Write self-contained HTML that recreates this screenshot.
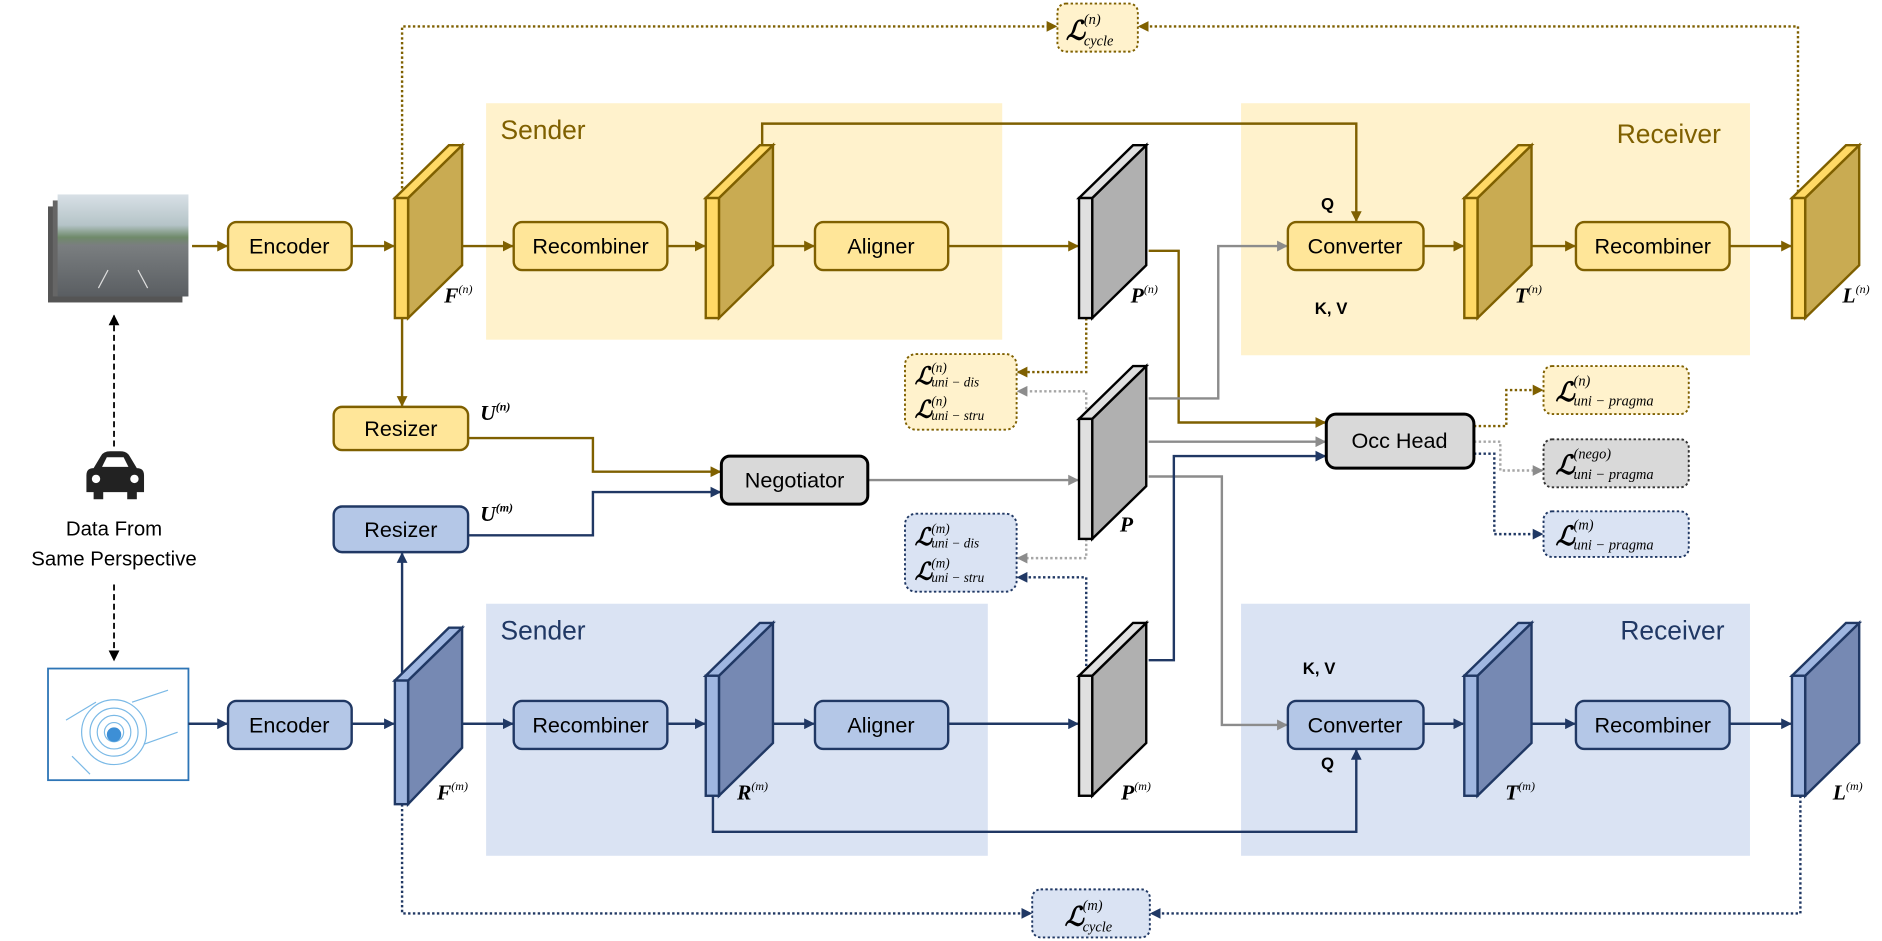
<!DOCTYPE html>
<html><head><meta charset="utf-8"><style>
html,body{margin:0;padding:0;background:#fff;}
svg{display:block;}
.t{font-family:"Liberation Sans",sans-serif;font-size:18px;text-anchor:middle;dominant-baseline:central;fill:#000;}
.m{font-family:"Liberation Serif",serif;font-style:italic;font-weight:bold;fill:#000;}
.s{font-family:"Liberation Serif",serif;font-style:italic;fill:#000;}
</style></head><body>
<svg width="1882" height="941" viewBox="0 0 1568 784" xmlns="http://www.w3.org/2000/svg">
<defs>
<marker id="ag" markerWidth="9" markerHeight="9" refX="8" refY="4.5" orient="auto" markerUnits="userSpaceOnUse"><path d="M0,0 L9,4.5 L0,9z" fill="#7f6000"/></marker>
<marker id="ab" markerWidth="9" markerHeight="9" refX="8" refY="4.5" orient="auto" markerUnits="userSpaceOnUse"><path d="M0,0 L9,4.5 L0,9z" fill="#203864"/></marker>
<marker id="ay" markerWidth="9" markerHeight="9" refX="8" refY="4.5" orient="auto" markerUnits="userSpaceOnUse"><path d="M0,0 L9,4.5 L0,9z" fill="#8c8c8c"/></marker>
<marker id="ak" markerWidth="9" markerHeight="9" refX="8" refY="4.5" orient="auto" markerUnits="userSpaceOnUse"><path d="M0,0 L9,4.5 L0,9z" fill="#000"/></marker>
<linearGradient id="sky" x1="0" y1="0" x2="0" y2="1"><stop offset="0" stop-color="#d8e0e6"/><stop offset="0.3" stop-color="#b5c4c8"/><stop offset="0.42" stop-color="#6f8a6a"/><stop offset="0.5" stop-color="#7a7e80"/><stop offset="1" stop-color="#5a5e62"/></linearGradient>
</defs>

<rect x="405" y="86" width="430" height="197" fill="#fff2cc"/>
<rect x="1034" y="86" width="424" height="210" fill="#fff2cc"/>
<rect x="405" y="503" width="418" height="210" fill="#dae3f3"/>
<rect x="1034" y="503" width="424" height="210" fill="#dae3f3"/>
<text x="417" y="116" style="font-family:'Liberation Sans',sans-serif;font-size:22px;fill:#7f6000">Sender</text>
<text x="1347" y="119" style="font-family:'Liberation Sans',sans-serif;font-size:22px;fill:#7f6000">Receiver</text>
<text x="417" y="533" style="font-family:'Liberation Sans',sans-serif;font-size:22px;fill:#203864">Sender</text>
<text x="1350" y="533" style="font-family:'Liberation Sans',sans-serif;font-size:22px;fill:#203864">Receiver</text>

<rect x="40" y="172" width="112" height="80" fill="#555"/>
<rect x="44" y="167" width="112" height="80" fill="#666"/>
<rect x="48" y="162" width="109" height="85" fill="url(#sky)"/>
<path d="M90 225 L82 240 M115 225 L123 240" stroke="#ddd" stroke-width="1"/>
<rect x="40" y="557" width="117" height="93" fill="#fff" stroke="#2e75b6" stroke-width="1.5"/>
<g fill="none" stroke="#5aa8e0" stroke-width="1" opacity="0.8">
<circle cx="95" cy="610" r="8"/><circle cx="95" cy="610" r="14"/><circle cx="95" cy="610" r="20"/><circle cx="95" cy="610" r="27"/>
<path d="M55 600 L80 585 M110 585 L140 575 M60 630 L75 645 M120 620 L148 610"/>
</g>
<circle cx="95" cy="612" r="6" fill="#3d8fd6"/>

<path d="M72 396 Q72 390 78 390 L84 380 Q86 376 92 376 L100 376 Q106 376 108 380 L114 390 Q120 390 120 396 L120 410 L114 410 L114 416 L106 416 L106 410 L86 410 L86 416 L78 416 L78 410 L72 410Z" fill="#222"/>
<path d="M85 389 L89 381 L103 381 L107 389Z" fill="#fff"/>
<circle cx="80" cy="399" r="3.5" fill="#fff"/><circle cx="112" cy="399" r="3.5" fill="#fff"/>
<text class="t" x="95" y="441" style="font-size:17px">Data From</text>
<text class="t" x="95" y="466" style="font-size:17px">Same Perspective</text>
<line x1="95" y1="372" x2="95" y2="263" stroke="#000" stroke-width="1.5" stroke-dasharray="5,3" marker-end="url(#ak)"/>
<line x1="95" y1="487" x2="95" y2="550" stroke="#000" stroke-width="1.5" stroke-dasharray="5,3" marker-end="url(#ak)"/>

<g stroke="#7f6000" stroke-width="2" fill="none">
<line x1="160" y1="205" x2="189" y2="205" marker-end="url(#ag)"/>
<line x1="293" y1="205" x2="328" y2="205" marker-end="url(#ag)"/>
<line x1="385" y1="205" x2="427" y2="205" marker-end="url(#ag)"/>
<line x1="556" y1="205" x2="587" y2="205" marker-end="url(#ag)"/>
<line x1="633" y1="205" x2="678" y2="205" marker-end="url(#ag)"/>
<line x1="790" y1="205" x2="898" y2="205" marker-end="url(#ag)"/>
<polyline points="635,121 635,103 1130,103 1130,184" marker-end="url(#ag)"/>
<line x1="1186" y1="205" x2="1219" y2="205" marker-end="url(#ag)"/>
<line x1="1265" y1="205" x2="1312" y2="205" marker-end="url(#ag)"/>
<line x1="1441" y1="205" x2="1492" y2="205" marker-end="url(#ag)"/>
<line x1="335" y1="265" x2="335" y2="338" marker-end="url(#ag)"/>
<polyline points="390,365 494,365 494,393 600,393" marker-end="url(#ag)"/>
<polyline points="957,209 982,209 982,352 1104,352" marker-end="url(#ag)"/>
</g>
<g stroke="#7f6000" stroke-width="2" fill="none" stroke-dasharray="2,2">
<polyline points="335,165 335,22 880,22" marker-end="url(#ag)"/>
<polyline points="1498,160 1498,22 949,22" marker-end="url(#ag)"/>
<polyline points="905,265 905,310 848,310" marker-end="url(#ag)"/>
<polyline points="1228,355 1255,355 1255,325 1285,325" marker-end="url(#ag)"/>
</g>
<g stroke="#8c8c8c" stroke-width="2" fill="none">
<polyline points="957,332 1015,332 1015,205 1072,205" marker-end="url(#ay)"/>
<line x1="957" y1="368" x2="1104" y2="368" marker-end="url(#ay)"/>
<line x1="723" y1="400" x2="898" y2="400" marker-end="url(#ay)"/>
<polyline points="957,397 1018,397 1018,604 1072,604" marker-end="url(#ay)"/>
</g>
<g stroke="#a6a6a6" stroke-width="2" fill="none" stroke-dasharray="2,2">
<polyline points="905,349 905,326 848,326" marker-end="url(#ay)"/>
<polyline points="905,449 905,465 848,465" marker-end="url(#ay)"/>
<polyline points="1228,368 1250,368 1250,392 1285,392" marker-end="url(#ay)"/>
</g>
<g stroke="#203864" stroke-width="2" fill="none">
<line x1="157" y1="603" x2="189" y2="603" marker-end="url(#ab)"/>
<line x1="293" y1="603" x2="328" y2="603" marker-end="url(#ab)"/>
<line x1="385" y1="603" x2="427" y2="603" marker-end="url(#ab)"/>
<line x1="556" y1="603" x2="587" y2="603" marker-end="url(#ab)"/>
<line x1="633" y1="603" x2="678" y2="603" marker-end="url(#ab)"/>
<line x1="790" y1="603" x2="898" y2="603" marker-end="url(#ab)"/>
<polyline points="594,663 594,693 1130,693 1130,625" marker-end="url(#ab)"/>
<line x1="1186" y1="603" x2="1219" y2="603" marker-end="url(#ab)"/>
<line x1="1265" y1="603" x2="1312" y2="603" marker-end="url(#ab)"/>
<line x1="1441" y1="603" x2="1492" y2="603" marker-end="url(#ab)"/>
<line x1="335" y1="567" x2="335" y2="461" marker-end="url(#ab)"/>
<polyline points="390,446 494,446 494,410 600,410" marker-end="url(#ab)"/>
<polyline points="957,550 978,550 978,380 1104,380" marker-end="url(#ab)"/>
</g>
<g stroke="#203864" stroke-width="2" fill="none" stroke-dasharray="2,2">
<polyline points="335,670 335,761 859,761" marker-end="url(#ab)"/>
<polyline points="1500,663 1500,761 959,761" marker-end="url(#ab)"/>
<polyline points="905,563 905,481 848,481" marker-end="url(#ab)"/>
<polyline points="1228,378 1245,378 1245,445 1285,445" marker-end="url(#ab)"/>
</g>

<g stroke-width="2" stroke-linejoin="miter">
<g stroke="#7f6000">
<polygon points="340,165 385,121 385,221 340,265" fill="#c9ab52"/><polygon points="329,165 374,121 385,121 340,165" fill="#ffd966"/><rect x="329" y="165" width="11" height="100" fill="#ffd966"/>
<polygon points="599,165 644,121 644,221 599,265" fill="#c9ab52"/><polygon points="588,165 633,121 644,121 599,165" fill="#ffd966"/><rect x="588" y="165" width="11" height="100" fill="#ffd966"/>
<polygon points="1231,165 1276,121 1276,221 1231,265" fill="#c9ab52"/><polygon points="1220,165 1265,121 1276,121 1231,165" fill="#ffd966"/><rect x="1220" y="165" width="11" height="100" fill="#ffd966"/>
<polygon points="1504,165 1549,121 1549,221 1504,265" fill="#c9ab52"/><polygon points="1493,165 1538,121 1549,121 1504,165" fill="#ffd966"/><rect x="1493" y="165" width="11" height="100" fill="#ffd966"/>
</g>
<g stroke="#000">
<polygon points="910,165 955,121 955,221 910,265" fill="#b0b0b0"/><polygon points="899,165 944,121 955,121 910,165" fill="#e0e0e0"/><rect x="899" y="165" width="11" height="100" fill="#e0e0e0"/>
<polygon points="910,349 955,305 955,405 910,449" fill="#b0b0b0"/><polygon points="899,349 944,305 955,305 910,349" fill="#e0e0e0"/><rect x="899" y="349" width="11" height="100" fill="#e0e0e0"/>
<polygon points="910,563 955,519 955,619 910,663" fill="#b0b0b0"/><polygon points="899,563 944,519 955,519 910,563" fill="#e0e0e0"/><rect x="899" y="563" width="11" height="100" fill="#e0e0e0"/>
</g>
<g stroke="#203864">
<polygon points="340,567 385,523 385,623 340,670" fill="#7689b3"/><polygon points="329,567 374,523 385,523 340,567" fill="#9fb6e0"/><rect x="329" y="567" width="11" height="103" fill="#9fb6e0"/>
<polygon points="599,563 644,519 644,619 599,663" fill="#7689b3"/><polygon points="588,563 633,519 644,519 599,563" fill="#9fb6e0"/><rect x="588" y="563" width="11" height="100" fill="#9fb6e0"/>
<polygon points="1231,563 1276,519 1276,619 1231,663" fill="#7689b3"/><polygon points="1220,563 1265,519 1276,519 1231,563" fill="#9fb6e0"/><rect x="1220" y="563" width="11" height="100" fill="#9fb6e0"/>
<polygon points="1504,563 1549,519 1549,619 1504,663" fill="#7689b3"/><polygon points="1493,563 1538,519 1549,519 1504,563" fill="#9fb6e0"/><rect x="1493" y="563" width="11" height="100" fill="#9fb6e0"/>
</g>
</g>

<g stroke-width="2">
<g fill="#ffe699" stroke="#7f6000">
<rect x="190" y="185" width="103" height="40" rx="7"/>
<rect x="428" y="185" width="128" height="40" rx="7"/>
<rect x="679" y="185" width="111" height="40" rx="7"/>
<rect x="1073" y="185" width="113" height="40" rx="7"/>
<rect x="1313" y="185" width="128" height="40" rx="7"/>
<rect x="278" y="339" width="112" height="36" rx="7"/>
</g>
<g fill="#b4c7e7" stroke="#203864">
<rect x="190" y="584" width="103" height="40" rx="7"/>
<rect x="428" y="584" width="128" height="40" rx="7"/>
<rect x="679" y="584" width="111" height="40" rx="7"/>
<rect x="1073" y="584" width="113" height="40" rx="7"/>
<rect x="1313" y="584" width="128" height="40" rx="7"/>
<rect x="278" y="422" width="112" height="38" rx="7"/>
</g>
<g fill="#d9d9d9" stroke="#000" stroke-width="2.5">
<rect x="601" y="380" width="122" height="40" rx="7"/>
<rect x="1105" y="345" width="123" height="45" rx="8"/>
</g>
</g>
<g>
<text class="t" x="241" y="205">Encoder</text><text class="t" x="492" y="205">Recombiner</text><text class="t" x="734" y="205">Aligner</text><text class="t" x="1129" y="205">Converter</text><text class="t" x="1377" y="205">Recombiner</text><text class="t" x="334" y="357">Resizer</text>
<text class="t" x="241" y="604">Encoder</text><text class="t" x="492" y="604">Recombiner</text><text class="t" x="734" y="604">Aligner</text><text class="t" x="1129" y="604">Converter</text><text class="t" x="1377" y="604">Recombiner</text><text class="t" x="334" y="441">Resizer</text>
<text class="t" x="662" y="400">Negotiator</text><text class="t" x="1166" y="367">Occ Head</text>
<text class="t" x="1106" y="170" style="font-size:14px;font-weight:bold">Q</text><text class="t" x="1109" y="257" style="font-size:14px;font-weight:bold">K, V</text>
<text class="t" x="1099" y="557" style="font-size:14px;font-weight:bold">K, V</text><text class="t" x="1106" y="636" style="font-size:14px;font-weight:bold">Q</text>
</g>

<g stroke-width="1.6" stroke-dasharray="2,2">
<rect x="881" y="3" width="67" height="40" rx="7" fill="#fff2cc" stroke="#7f6000"/>
<rect x="860" y="741" width="98" height="40" rx="7" fill="#dae3f3" stroke="#203864"/>
<rect x="754" y="295" width="93" height="63" rx="9" fill="#fff2cc" stroke="#7f6000"/>
<rect x="754" y="428" width="93" height="65" rx="9" fill="#dae3f3" stroke="#203864"/>
<rect x="1286" y="305" width="121" height="40" rx="7" fill="#fff2cc" stroke="#7f6000"/>
<rect x="1286" y="366" width="121" height="40" rx="7" fill="#d9d9d9" stroke="#333"/>
<rect x="1286" y="426" width="121" height="38" rx="7" fill="#dae3f3" stroke="#203864"/>
</g>
<!-- loss labels -->
<text class="m" x="888" y="33" font-size="22">ℒ</text><text class="s" x="903" y="20" font-size="12">(n)</text><text class="s" x="903" y="38" font-size="12">cycle</text>
<text class="m" x="887" y="771" font-size="22">ℒ</text><text class="s" x="902" y="758" font-size="12">(m)</text><text class="s" x="902" y="776" font-size="12">cycle</text>
<text class="m" x="762" y="320" font-size="20">ℒ</text><text class="s" x="776" y="310" font-size="11">(n)</text><text class="s" x="776" y="322" font-size="11">uni − dis</text>
<text class="m" x="762" y="348" font-size="20">ℒ</text><text class="s" x="776" y="338" font-size="11">(n)</text><text class="s" x="776" y="350" font-size="11">uni − stru</text>
<text class="m" x="762" y="454" font-size="20">ℒ</text><text class="s" x="776" y="444" font-size="11">(m)</text><text class="s" x="776" y="456" font-size="11">uni − dis</text>
<text class="m" x="762" y="483" font-size="20">ℒ</text><text class="s" x="776" y="473" font-size="11">(m)</text><text class="s" x="776" y="485" font-size="11">uni − stru</text>
<text class="m" x="1296" y="334" font-size="22">ℒ</text><text class="s" x="1311" y="321" font-size="12">(n)</text><text class="s" x="1311" y="338" font-size="12">uni − pragma</text>
<text class="m" x="1296" y="395" font-size="22">ℒ</text><text class="s" x="1311" y="382" font-size="12">(nego)</text><text class="s" x="1311" y="399" font-size="12">uni − pragma</text>
<text class="m" x="1296" y="454" font-size="22">ℒ</text><text class="s" x="1311" y="441" font-size="12">(m)</text><text class="s" x="1311" y="458" font-size="12">uni − pragma</text>
<g class="m">
<text x="370" y="252" font-size="18">F<tspan font-size="10" dy="-8" font-weight="normal">(n)</tspan></text>
<text x="942" y="252" font-size="18">P<tspan font-size="10" dy="-8" font-weight="normal">(n)</tspan></text>
<text x="1262" y="252" font-size="18">T<tspan font-size="10" dy="-8" font-weight="normal">(n)</tspan></text>
<text x="1535" y="252" font-size="18">L<tspan font-size="10" dy="-8" font-weight="normal">(n)</tspan></text>
<text x="400" y="350" font-size="18">U<tspan font-size="10" dy="-8">(n)</tspan></text>
<text x="400" y="434" font-size="18">U<tspan font-size="10" dy="-8">(m)</tspan></text>
<text x="933" y="443" font-size="18">P</text>
<text x="364" y="666" font-size="18">F<tspan font-size="10" dy="-8" font-weight="normal">(m)</tspan></text>
<text x="614" y="666" font-size="18">R<tspan font-size="10" dy="-8" font-weight="normal">(m)</tspan></text>
<text x="934" y="666" font-size="18">P<tspan font-size="10" dy="-8" font-weight="normal">(m)</tspan></text>
<text x="1254" y="666" font-size="18">T<tspan font-size="10" dy="-8" font-weight="normal">(m)</tspan></text>
<text x="1527" y="666" font-size="18">L<tspan font-size="10" dy="-8" font-weight="normal">(m)</tspan></text>
</g>
</svg>
</body></html>
